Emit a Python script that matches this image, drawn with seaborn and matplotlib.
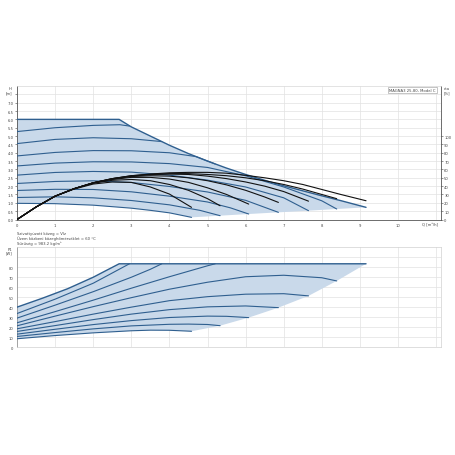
import numpy as np
import matplotlib
matplotlib.use('Agg')
import matplotlib.pyplot as plt
import seaborn as sns

# --- head curves H [m] vs Q [m3/h] ---
env_q = [0, 2.68, 3.0, 3.5, 4.0, 4.5, 5.0, 5.5, 6.0, 6.5, 7.0, 7.5, 8.0, 8.5, 9.16]
env_h = [6.0, 6.0, 5.55, 5.0, 4.45, 3.95, 3.5, 3.08, 2.7, 2.35, 2.02, 1.72, 1.42, 1.13, 0.73]

c9_q = [0, 1, 2, 2.7, 2.95]
c9_h = [5.27, 5.5, 5.64, 5.68, 5.6]
c8_q = [0, 1, 2, 3, 3.8]
c8_h = [4.55, 4.8, 4.9, 4.84, 4.67]
c7_q = [0, 1, 2, 3, 4, 4.7, 5.2]
c7_h = [3.81, 4.02, 4.13, 4.12, 4.0, 3.77, 3.33]
c6_q = [0, 1, 2, 3, 4, 5, 6, 7, 8, 8.39]
c6_h = [3.21, 3.38, 3.46, 3.45, 3.35, 3.12, 2.62, 1.95, 1.12, 0.63]
c5_q = [0, 1, 2, 3, 4, 5, 6, 7, 7.65]
c5_h = [2.66, 2.82, 2.88, 2.84, 2.66, 2.36, 1.95, 1.3, 0.53]
c4_q = [0, 1, 2, 3, 4, 5, 6, 6.86]
c4_h = [2.16, 2.28, 2.32, 2.22, 1.98, 1.65, 1.15, 0.43]
c3_q = [0, 1, 2, 3, 4, 5, 5.6, 6.08]
c3_h = [1.74, 1.81, 1.8, 1.66, 1.4, 1.05, 0.7, 0.33]
c2_q = [0, 1, 2, 3, 4, 4.8, 5.33]
c2_h = [1.32, 1.36, 1.3, 1.14, 0.88, 0.55, 0.23]
c1_q = [0, 1, 2, 3, 3.5, 4, 4.58]
c1_h = [0.97, 0.95, 0.86, 0.68, 0.55, 0.4, 0.13]

# --- efficiency curves eta [%] ---
eta_max_q = [0, 0.5, 1, 1.5, 2, 2.5, 3, 3.5, 4, 4.5, 5, 5.5, 6, 6.5, 7, 7.5, 8, 8.5, 9.16]
eta_max = [0, 15, 28, 37, 44, 49, 52.5, 54.5, 56, 56.5, 56.5, 55.5, 53, 50, 46.5, 42, 36, 30, 22.5]
eta6_q = [0, 0.5, 1, 1.5, 2, 2.5, 3, 3.5, 4, 4.5, 5, 5.5, 6, 6.5, 7, 7.5, 8, 8.39]
eta6 = [0, 15, 28, 37, 44, 49, 52.5, 54, 55, 55, 54, 52.5, 50, 46.5, 42, 36.5, 30, 25]
eta5_q = [0, 0.5, 1, 1.5, 2, 2.5, 3, 3.5, 4, 4.5, 5, 5.5, 6, 6.5, 7, 7.65]
eta5 = [0, 15, 28, 37, 44, 49, 52, 54, 54.5, 54, 52, 49, 45, 40, 33.5, 22]
eta4_q = [0, 0.5, 1, 1.5, 2, 2.5, 3, 3.5, 4, 4.5, 5, 5.5, 6, 6.5, 6.86]
eta4 = [0, 15, 28, 37, 44, 48.5, 51.5, 52.5, 52, 50, 46.5, 41.5, 35, 27, 20.5]
eta3_q = [0, 0.5, 1, 1.5, 2, 2.5, 3, 3.5, 4, 4.5, 5, 5.5, 6.08]
eta3 = [0, 15, 28, 37, 44, 48, 50.5, 50.5, 48.5, 44.5, 38, 30, 18.5]
eta2_q = [0, 0.5, 1, 1.5, 2, 2.5, 3, 3.5, 4, 4.5, 5, 5.33]
eta2 = [0, 15, 28, 37, 43.5, 47, 48, 46.5, 42, 35, 25, 16.5]
eta1_q = [0, 0.5, 1, 1.5, 2, 2.5, 3, 3.5, 4, 4.58]
eta1 = [0, 15, 28, 36.5, 42.5, 45, 44.5, 39, 30.5, 14.6]

# --- power curves P1 [W] ---
pmax_q = [0, 0.67, 1.33, 2.0, 2.68, 9.16]
pmax = [40, 49, 58.5, 70, 83.5, 83.5]
p9_q = [0, 1, 2, 2.95]
p9 = [33.6, 48, 64, 83.5]
p8_q = [0, 1, 2, 3, 3.5, 3.8]
p8 = [29, 42, 55.5, 70, 78, 83.5]
p7_q = [0, 1, 2, 3, 4, 5, 5.2]
p7 = [24.3, 35.5, 47, 59, 70.5, 81.5, 83.5]
p6_q = [0, 1, 2, 3, 4, 5, 6, 7, 8, 8.39]
p6 = [21.3, 31, 40.5, 49.5, 58, 65, 70.5, 72, 69.5, 66.3]
p5_q = [0, 1, 2, 3, 4, 5, 6, 7, 7.65]
p5 = [18.3, 25.5, 33, 40, 46.5, 50.5, 53, 53.5, 51.3]
p4_q = [0, 1, 2, 3, 4, 5, 6, 6.86]
p4 = [15.6, 21.5, 27.5, 33, 37.5, 40.3, 41.2, 39.5]
p3_q = [0, 1, 2, 3, 4, 5, 5.5, 6.08]
p3 = [12.9, 17.8, 22.5, 26.5, 29.6, 31.0, 30.8, 29.5]
p2_q = [0, 1, 2, 3, 4, 4.5, 5, 5.33]
p2 = [10.6, 14.5, 18.2, 21.2, 22.8, 23.0, 22.6, 21.4]
p1_q = [0, 1, 2, 3, 3.5, 4, 4.58]
p1 = [8.3, 11.5, 14.2, 16.3, 16.9, 16.8, 15.8]

head_ticks = [0.0, 0.5, 1.0, 1.5, 2.0, 2.5, 3.0, 3.5, 4.0, 4.5, 5.0, 5.5, 6.0, 6.5, 7.0]
eta_ticks = [0, 10, 20, 30, 40, 50, 60, 70, 80, 90, 100]
power_ticks = [0, 10, 20, 30, 40, 50, 60, 70, 80]
q_ticks = [0, 1, 2, 3, 4, 5, 6, 7, 8, 9, 10]

BLUE = '#2f5f8f'
FILL = '#c9d9ea'
GRID = '#e2e2e2'
FS = 2.7

sns.set_style('whitegrid')
plt.rcParams['font.family'] = ['DejaVu Sans']

fig = plt.figure(figsize=(4.56, 4.56), dpi=100)
ax = fig.add_axes([0.0373, 0.5164, 0.9292, 0.2928])
ax2 = ax.twinx()
axp = fig.add_axes([0.0373, 0.2368, 0.9292, 0.2186])

xmax = 11.12

# ---------- top chart: head ----------
const_curves = [(c9_q, c9_h), (c8_q, c8_h), (c7_q, c7_h), (c6_q, c6_h), (c5_q, c5_h),
                (c4_q, c4_h), (c3_q, c3_h), (c2_q, c2_h), (c1_q, c1_h)]
ends = [(c[0][-1], c[1][-1]) for c in const_curves[3:]]
poly_x = list(env_q) + [e[0] for e in ends][:-1] + list(c1_q[::-1])
poly_y = list(env_h) + [e[1] for e in ends][:-1] + list(c1_h[::-1])
ax.fill(poly_x, poly_y, color=FILL, lw=0, zorder=1)
for q, h in const_curves:
    sns.lineplot(x=q, y=h, ax=ax, color=BLUE, lw=0.8, zorder=3)
sns.lineplot(x=env_q, y=env_h, ax=ax, color=BLUE, lw=1.0, zorder=3)

ax.set_xlim(0, xmax)
ax.set_ylim(0, 8.0)
ax.set_xticks(q_ticks + [11])
ax.set_xticklabels([str(t) for t in q_ticks] + [''])
ax.set_yticks(head_ticks + [7.5])
ax.set_yticklabels([f'{t:.1f}' for t in head_ticks] + [''])
ax.tick_params(labelsize=FS, length=1.5, width=0.4, pad=1, colors='#444')
ax.grid(True, color=GRID, lw=0.5)
ax.set_xlabel('')
ax.set_ylabel('')
for s in ['left', 'bottom', 'right']:
    ax.spines[s].set_color('#555')
    ax.spines[s].set_linewidth(0.6)
ax.spines['top'].set_color('#d8d8d8')
ax.spines['top'].set_linewidth(0.5)

eta_curves = [(eta_max_q, eta_max), (eta6_q, eta6), (eta5_q, eta5), (eta4_q, eta4),
              (eta3_q, eta3), (eta2_q, eta2), (eta1_q, eta1)]
for q, e in eta_curves:
    sns.lineplot(x=q, y=e, ax=ax2, color='#111111', lw=0.8, zorder=4)
ax2.set_ylim(0, 160)
ax2.set_xlim(0, xmax)
ax2.set_yticks(eta_ticks)
ax2.set_yticklabels([str(t) for t in eta_ticks])
ax2.tick_params(labelsize=FS, length=1.5, width=0.4, pad=1, colors='#444')
ax2.grid(False)
ax2.set_ylabel('')
for s in ax2.spines.values():
    s.set_visible(False)

ax.text(-0.012, 7.87, 'H', transform=ax.get_yaxis_transform(), ha='right', va='center',
        fontsize=FS, color='#444')
ax.text(-0.012, 7.6, '[m]', transform=ax.get_yaxis_transform(), ha='right', va='center',
        fontsize=FS, color='#444')
ax.text(1.008, 7.87, 'eta', transform=ax.get_yaxis_transform(), ha='left', va='center',
        fontsize=FS, color='#444')
ax.text(1.008, 7.6, '[%]', transform=ax.get_yaxis_transform(), ha='left', va='center',
        fontsize=FS, color='#444')
ax.text(11.05, -0.27, 'Q [m³/h]', ha='right', va='center', fontsize=FS, color='#444')
ax.text(10.98, 7.76, 'MAGNA3 25-80, Model C', ha='right', va='center', fontsize=FS,
        color='#444', zorder=5,
        bbox=dict(boxstyle='square,pad=0.35', fc='white', ec='#999999', lw=0.4))

fig.text(17 / 456, 1 - 234 / 456, 'Szivattyúzott közeg = Víz', fontsize=FS, va='center', color='#444')
fig.text(17 / 456, 1 - 239 / 456, 'Üzem közbeni közeghőmérséklet = 60 °C', fontsize=FS, va='center', color='#444')
fig.text(17 / 456, 1 - 244 / 456, 'Sűrűség = 983.2 kg/m³', fontsize=FS, va='center', color='#444')

# ---------- bottom chart: power ----------
pow_curves = [(p9_q, p9), (p8_q, p8), (p7_q, p7), (p6_q, p6), (p5_q, p5),
              (p4_q, p4), (p3_q, p3), (p2_q, p2), (p1_q, p1)]
pends = [(c[0][-1], c[1][-1]) for c in pow_curves[3:]]
ppoly_x = list(pmax_q) + [e[0] for e in pends][:-1] + list(p1_q[::-1])
ppoly_y = list(pmax) + [e[1] for e in pends][:-1] + list(p1[::-1])
axp.fill(ppoly_x, ppoly_y, color=FILL, lw=0, zorder=1)
for q, p in pow_curves:
    sns.lineplot(x=q, y=p, ax=axp, color=BLUE, lw=0.8, zorder=3)
sns.lineplot(x=pmax_q, y=pmax, ax=axp, color=BLUE, lw=1.0, zorder=3)

axp.set_xlim(0, xmax)
axp.set_ylim(0, 100)
axp.set_xticks(q_ticks + [11])
axp.set_xticklabels([])
axp.set_yticks(power_ticks + [90])
axp.set_yticklabels([str(t) for t in power_ticks] + [''])
axp.tick_params(axis='y', labelsize=FS, length=1.5, width=0.4, pad=1, colors='#444')
axp.tick_params(axis='x', length=0)
axp.grid(True, color=GRID, lw=0.5)
axp.set_xlabel('')
axp.set_ylabel('')
for s in ['top', 'bottom', 'right']:
    axp.spines[s].set_color('#d0d0d0')
    axp.spines[s].set_linewidth(0.5)
axp.spines['left'].set_color('#888')
axp.spines['left'].set_linewidth(0.5)
axp.text(-0.012, 98.5, 'P1', transform=axp.get_yaxis_transform(), ha='right', va='center',
         fontsize=FS, color='#444')
axp.text(-0.012, 94.5, '[W]', transform=axp.get_yaxis_transform(), ha='right', va='center',
         fontsize=FS, color='#444')

fig.savefig('out.png', dpi=100, facecolor='white')
